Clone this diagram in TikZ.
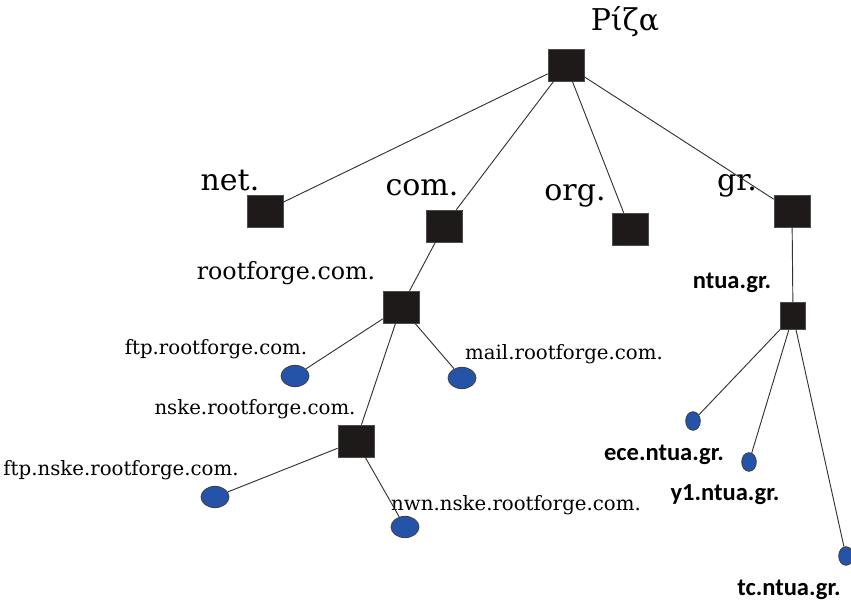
\documentclass[tikz,border=0pt]{standalone}
\usepackage{fontspec}
\setmainfont{DejaVu Serif}
\newfontfamily\ntuafont{Carlito}
\usetikzlibrary{shapes.geometric}

\definecolor{boxfill}{HTML}{1E1A1A}
\definecolor{leaffill}{HTML}{2453A8}

\begin{document}
\begin{tikzpicture}[
      x=0.75pt, y=-0.75pt,
      zone/.style={draw=black!70, fill=boxfill, minimum width=27pt, minimum height=24pt, inner sep=0pt},
      subzone/.style={zone, minimum width=19pt, minimum height=20pt},
      host/.style={ellipse, draw=black!75, line width=0.6pt, fill=leaffill, minimum width=21pt, minimum height=16pt, inner sep=0pt},
      smallhost/.style={host, minimum width=11pt, minimum height=14pt},
      big/.style={font=\fontsize{22.5}{25}\selectfont, inner sep=0pt},
      mid/.style={font=\fontsize{17.8}{20}\selectfont, inner sep=0pt},
      small/.style={font=\fontsize{14.8}{17}\selectfont, inner sep=0pt},
      bold/.style={font=\ntuafont\bfseries\fontsize{18.4}{20}\selectfont, inner sep=0pt},
      link/.style={draw=black!80, line width=0.7pt}
    ]
    \useasboundingbox (0,0) rectangle (851,603);

    % top level
    \node[zone] (root) at (566,65) {};
    \node[big] (rootlbl) at (625,22) {Ρίζα};

    \node[zone] (net) at (265,211) {};
    \node[zone] (com) at (444,226) {};
    \node[zone] (org) at (630,229) {};
    \node[zone] (gr) at (792,211) {};
    \node[big] (netlbl) at (230,181) {net.};
    \node[big] (comlbl) at (422,188) {com.};
    \node[big] (orglbl) at (575,196) {org.};
    \node[big] (grlbl) at (737,186) {gr.};

    % rootforge.com. subtree
    \node[zone] (rf) at (401,307) {};
    \node[mid] (rflbl) at (286,273) {rootforge.com.};
    \node[host] (ftp) at (295,376) {};
    \node[small] (ftplbl) at (216,349) {ftp.rootforge.com.};
    \node[host] (mail) at (462,378) {};
    \node[small] (maillbl) at (564,354) {mail.rootforge.com.};

    \node[zone] (nske) at (356,441) {};
    \node[small] (nskelbl) at (255,409) {nske.rootforge.com.};
    \node[host] (nskeftp) at (215,497) {};
    \node[small] (nskeftplbl) at (121,470) {ftp.nske.rootforge.com.};
    \node[host] (nwn) at (405,527) {};
    \node[small] (nwnlbl) at (516,505) {nwn.nske.rootforge.com.};

    % ntua.gr. subtree
    \node[subzone] (ntua) at (793,316) {};
    \node[bold] (ntualbl) at (732,283) {ntua.gr.};
    \node[smallhost] (ece) at (693,421) {};
    \node[bold] (ecelbl) at (664,455) {ece.ntua.gr.};
    \node[smallhost] (yone) at (749,462) {};
    \node[bold] (yonelbl) at (725,495) {y1.ntua.gr.};
    \node[smallhost] (tc) at (846,556) {};
    \node[bold] (tclbl) at (789,590) {tc.ntua.gr.};

    \draw[link] (root) -- (net);
    \draw[link] (root) -- (com);
    \draw[link] (root) -- (org);
    \draw[link] (root) -- (gr);
    \draw[link] (com) -- (rf);
    \draw[link] (rf) -- (ftp);
    \draw[link] (rf) -- (mail);
    \draw[link] (rf) -- (nske);
    \draw[link] (nske) -- (nskeftp);
    \draw[link] (nske) -- (nwn);
    \draw[link] (gr) -- (ntua);
    \draw[link] (ntua) -- (ece);
    \draw[link] (ntua) -- (yone);
    \draw[link] (ntua) -- (tc);

  \end{tikzpicture}
\end{document}
